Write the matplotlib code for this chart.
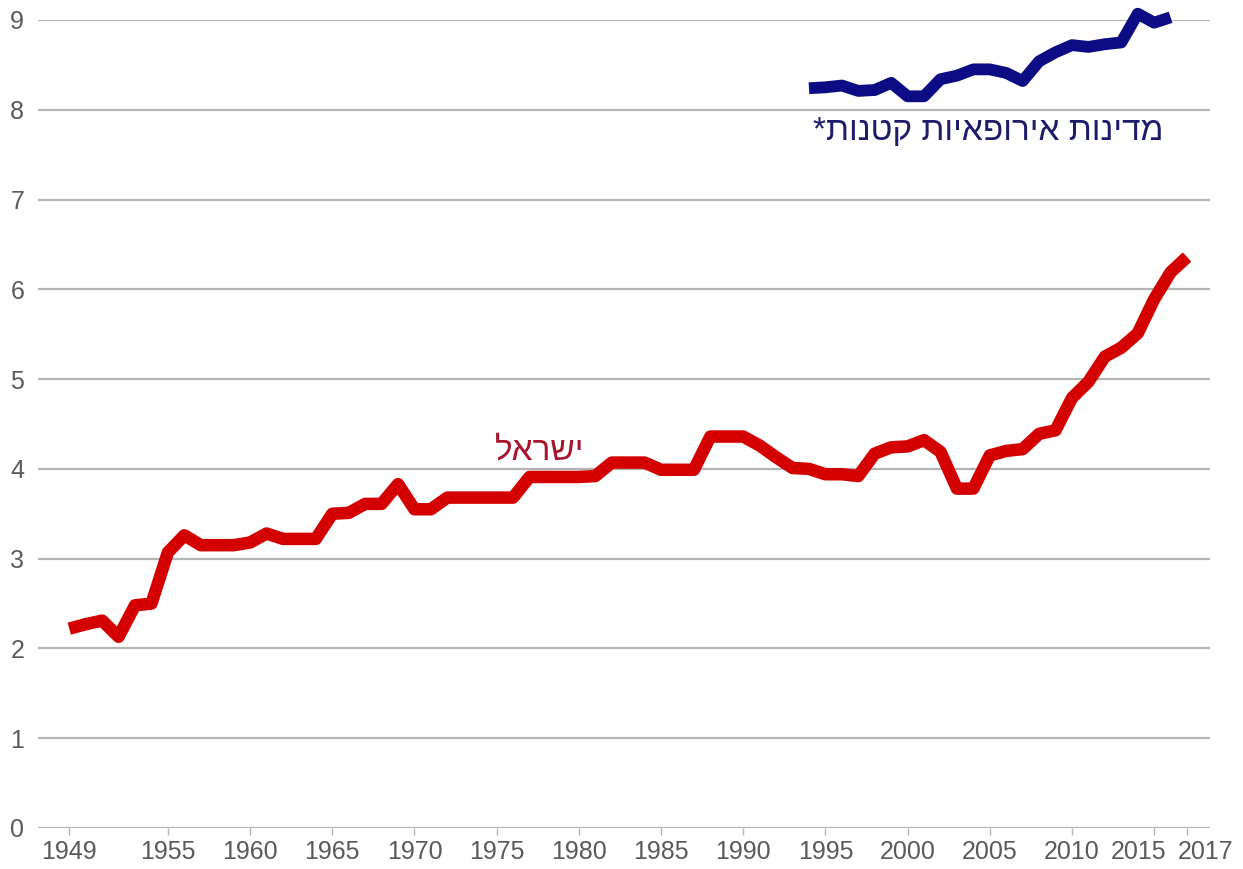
import numpy as np
import matplotlib
matplotlib.use("Agg")
import matplotlib.pyplot as plt
from matplotlib.transforms import ScaledTranslation

plt.rcParams['font.family'] = ['Liberation Sans', 'DejaVu Sans']

# Israel, 1949-2017
years_il = list(range(1949, 2018))
israel = [2.22, 2.27, 2.31, 2.13, 2.48, 2.50, 3.07, 3.26, 3.15, 3.15,   # 1949-58
          3.15, 3.18, 3.28, 3.22, 3.22, 3.22, 3.50, 3.51, 3.61, 3.61,   # 1959-68
          3.83, 3.55, 3.55, 3.68, 3.68, 3.68, 3.68, 3.68, 3.91, 3.91,   # 1969-78
          3.91, 3.91, 3.92, 4.07, 4.07, 4.07, 3.99, 3.99, 3.99, 4.36,   # 1979-88
          4.36, 4.36, 4.26, 4.13, 4.01, 4.00, 3.94, 3.94, 3.92, 4.17,   # 1989-98
          4.24, 4.25, 4.32, 4.19, 3.78, 3.78, 4.15, 4.20, 4.22, 4.39,   # 1999-2008
          4.43, 4.79, 4.97, 5.25, 5.35, 5.51, 5.89, 6.19, 6.36]         # 2009-17

# small european countries, 1994-2016
years_eu = list(range(1994, 2017))
europe = [8.24, 8.25, 8.27, 8.21, 8.22, 8.30, 8.15, 8.15, 8.34, 8.38,
          8.45, 8.45, 8.41, 8.32, 8.54, 8.64, 8.72, 8.70, 8.73, 8.75,
          9.07, 8.97, 9.03]

xticks = [1949, 1955, 1960, 1965, 1970, 1975, 1980, 1985, 1990, 1995,
          2000, 2005, 2010, 2015, 2017]
yticks = list(range(0, 10))

label_il = "ישראל"
label_eu = "מדינות אירופאיות קטנות*"

fig = plt.figure(figsize=(12.43, 8.69), dpi=100)
ax = fig.add_axes([0.0306, 0.0472, 0.9429, 0.9298])

for v in yticks:
    ax.axhline(v, color='#b4b4b4', lw=1.6, zorder=1)

ax.plot(years_il, israel, color='#d40000', lw=9, solid_joinstyle='round',
        solid_capstyle='butt', zorder=3)
ax.plot(years_eu, europe, color='#0c0c84', lw=8.5, solid_joinstyle='round',
        solid_capstyle='butt', zorder=3, clip_on=False)

# matplotlib does no bidi, so hebrew goes in reversed
ax.text(1977.6, 4.2, label_il[::-1], color='#a8142c', fontsize=24,
        ha='center', va='center')
ax.text(2004.9, 7.76, label_eu[::-1], color='#1c1c6a', fontsize=24,
        ha='center', va='center')

ax.set_xlim(1947.1, 2018.4)
ax.set_ylim(0, 9)
ax.set_xticks(xticks)
ax.set_yticks(yticks)
ax.tick_params(axis='x', length=5, width=1, color='#b4b4b4', labelsize=18,
               labelcolor='#5a5a5a', pad=4)
ax.tick_params(axis='y', length=0, labelsize=18, labelcolor='#5a5a5a', pad=10)
for s in ax.spines.values():
    s.set_visible(False)

# last two year labels are pushed apart so they don't collide
labels = ax.get_xticklabels()
labels[-2].set_transform(labels[-2].get_transform() + ScaledTranslation(-0.16, 0, fig.dpi_scale_trans))
labels[-1].set_transform(labels[-1].get_transform() + ScaledTranslation(0.19, 0, fig.dpi_scale_trans))

fig.savefig("out.png", dpi=100)
